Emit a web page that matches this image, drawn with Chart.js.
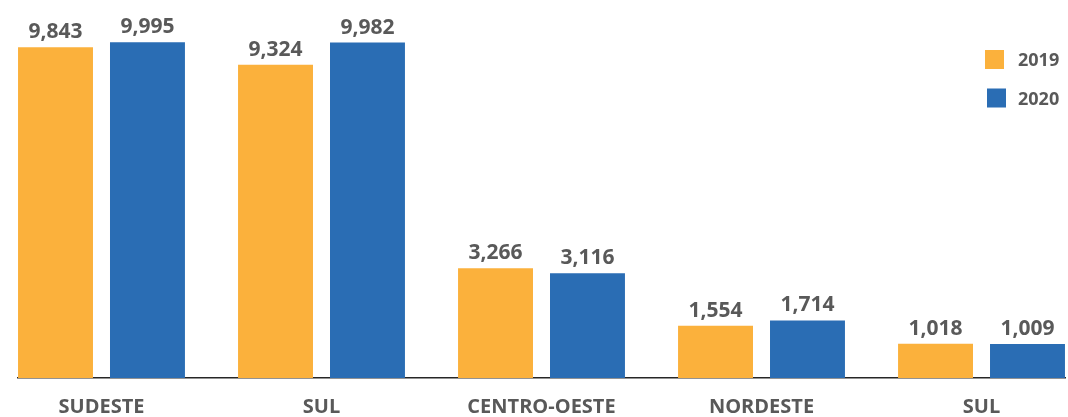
<!DOCTYPE html>
<html>
<head>
<meta charset="utf-8">
<script src="https://cdn.jsdelivr.net/npm/chart.js@4.4.0/dist/chart.umd.min.js"></script>
<style>
  html, body { margin: 0; padding: 0; background: #fff; }
  #wrap { width: 1068px; height: 417px; }
</style>
</head>
<body>
<div id="wrap"><canvas id="chart"></canvas></div>
<script>
const regions = ['SUDESTE', 'SUL', 'CENTRO-OESTE', 'NORDESTE', 'SUL'];
const years = ['2019', '2020'];
const values2019 = [9843, 9324, 3266, 1554, 1018];
const values2020 = [9995, 9982, 3116, 1714, 1009];

const barColors = ['#FBB13C', '#2A6DB4'];
const textColor = '#595959';
const fontFamily = "'Open Sans', 'DejaVu Sans', sans-serif";

// bars sit on a linear x axis (index of region) so the axis line can be narrower than the categories
const toPoints = vals => vals.map((v, i) => ({ x: i, y: v }));

// values above each bar
const valueLabels = {
    id: 'valueLabels',
    afterDatasetsDraw(chart) {
        const ctx = chart.ctx;
        ctx.save();
        ctx.font = 'bold 21px ' + fontFamily;
        ctx.fillStyle = textColor;
        ctx.textAlign = 'center';
        ctx.textBaseline = 'alphabetic';
        chart.data.datasets.forEach((ds, di) => {
            chart.getDatasetMeta(di).data.forEach((bar, i) => {
                ctx.fillText(ds.data[i].y.toLocaleString('en-US'), bar.x, bar.y - 9);
            });
        });
        ctx.restore();
    }
};

// small legend in the top right corner, over the plot
const cornerLegend = {
    id: 'cornerLegend',
    afterDraw(chart) {
        const ctx = chart.ctx;
        ctx.save();
        ctx.font = 'bold 18px ' + fontFamily;
        ctx.textBaseline = 'middle';
        ctx.textAlign = 'left';
        chart.data.datasets.forEach((ds, di) => {
            const y = 50 + di * 38.5;
            ctx.fillStyle = ds.backgroundColor;
            ctx.fillRect(985 + di * 2, y, 19, 19);
            ctx.fillStyle = textColor;
            ctx.fillText(ds.label, 1018, y + 11);
        });
        ctx.restore();
    }
};

const ctx = document.getElementById('chart').getContext('2d');
new Chart(ctx, {
    type: 'bar',
    data: {
        datasets: [
            { label: years[0], data: toPoints(values2019), backgroundColor: barColors[0] },
            { label: years[1], data: toPoints(values2020), backgroundColor: barColors[1] }
        ]
    },
    options: {
        responsive: true,
        maintainAspectRatio: false,
        animation: false,
        layout: { padding: { top: 42, left: 18, right: 3, bottom: 0 } },
        datasets: {
            bar: { categoryPercentage: 0.836, barPercentage: 0.815 }
        },
        plugins: {
            legend: { display: false },
            tooltip: { enabled: false }
        },
        scales: {
            x: {
                type: 'linear',
                bounds: 'data',
                offset: false,
                min: -0.3795,
                max: 4.3795,
                // one tick per region
                afterBuildTicks: scale => {
                    scale.ticks = regions.map((r, i) => ({ value: i }));
                },
                // fixed axis height so the baseline lands where the original has it
                afterFit: scale => {
                    scale.height = 39;
                },
                grid: { display: false, drawTicks: false, offset: false },
                border: { display: true, color: '#262626', width: 1.5 },
                ticks: {
                    autoSkip: false,
                    maxRotation: 0,
                    padding: 17,
                    color: textColor,
                    font: { family: fontFamily, size: 20, weight: 'bold' },
                    callback: v => regions[v]
                }
            },
            y: {
                display: false,
                min: 0,
                max: 10000
            }
        }
    },
    plugins: [valueLabels, cornerLegend]
});
</script>
</body>
</html>
